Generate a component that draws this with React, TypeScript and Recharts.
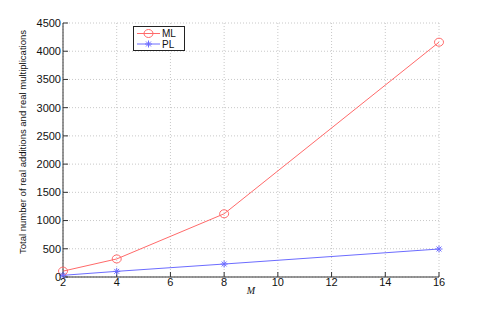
import React from 'react';
import { LineChart, Line, XAxis, YAxis, CartesianGrid } from 'recharts';

// values
const mValues = [2, 4, 8, 16];
const mlOps = [104, 320, 1120, 4160];
const plOps = [30, 100, 230, 496];
const xTicks = [2, 4, 6, 8, 10, 12, 14, 16];
const yTicks = [0, 500, 1000, 1500, 2000, 2500, 3000, 3500, 4000, 4500];

const data = mValues.map((m, i) => ({ m, ML: mlOps[i], PL: plOps[i] }));

const RED = '#ff6a6a';
const BLUE = '#6c6cff';
const AXIS = '#333';
const FONT = 'Liberation Sans, Arial, sans-serif';

const Circle = (props: any) => {
  const { cx, cy } = props;
  if (cx == null || cy == null) return null;
  return <ellipse cx={cx} cy={cy} rx={4.5} ry={4} fill="none" stroke={RED} strokeWidth={1} />;
};

const Star = (props: any) => {
  const { cx, cy } = props;
  if (cx == null || cy == null) return null;
  const r = 3.5;
  const d = r * 0.7;
  return (
    <g stroke={BLUE} strokeWidth={1}>
      <line x1={cx - r} y1={cy} x2={cx + r} y2={cy} />
      <line x1={cx} y1={cy - r} x2={cx} y2={cy + r} />
      <line x1={cx - d} y1={cy - d} x2={cx + d} y2={cy + d} />
      <line x1={cx - d} y1={cy + d} x2={cx + d} y2={cy - d} />
    </g>
  );
};

const LegendBox = () => (
  <svg width={52} height={25} style={{ display: 'block' }}>
    <rect x={0.5} y={0.5} width={51} height={24} fill="#fff" stroke="#222" />
    <line x1={4} y1={7.5} x2={27} y2={7.5} stroke={RED} />
    <Circle cx={15.5} cy={7.5} />
    <text x={29} y={11} fontSize={10} fontFamily={FONT} fill="#111">ML</text>
    <line x1={4} y1={18} x2={27} y2={18} stroke={BLUE} />
    <Star cx={15.5} cy={18} />
    <text x={29} y={21.5} fontSize={10} fontFamily={FONT} fill="#111">PL</text>
  </svg>
);

const YTitle = (props: any) => {
  const { viewBox } = props;
  const cy = viewBox.y + viewBox.height / 2 - 8;
  return (
    <text x={22} y={cy} transform={`rotate(-90, 22, ${cy})`} textAnchor="middle" dominantBaseline="central"
      fontSize={9.5} fontFamily="Liberation Sans Narrow, Arial Narrow, sans-serif" fill="#111">
      Total number of real additions and real multiplications
    </text>
  );
};

const XTitle = (props: any) => {
  const { viewBox } = props;
  const cx = viewBox.x + viewBox.width / 2;
  return (
    <text x={cx} y={viewBox.y + 17} textAnchor="middle" fontSize={10} fontStyle="italic"
      fontFamily="Liberation Serif, Times New Roman, serif" fill="#111">M</text>
  );
};

export default function App() {
  return (
    <div style={{ position: 'absolute', left: 0, top: 0, width: 485, height: 312, background: '#fff' }}>
      <LineChart width={485} height={312} data={data} margin={{ top: 23, right: 46, left: 0, bottom: 0 }}>
        <CartesianGrid xAxisId="b" yAxisId="l" stroke="#c8c8c8" strokeDasharray="1 2" />
        <XAxis xAxisId="b" dataKey="m" type="number" domain={[2, 16]} ticks={xTicks} height={35}
          stroke={AXIS} tickSize={-5} tickMargin={6} interval={0}
          tick={{ fontSize: 11, fontFamily: FONT, fill: '#111' }} label={<XTitle />} />
        <XAxis xAxisId="t" orientation="top" dataKey="m" type="number" domain={[2, 16]} ticks={xTicks}
          height={0} stroke={AXIS} tickSize={-5} tick={false} interval={0} />
        <YAxis yAxisId="l" type="number" domain={[0, 4500]} ticks={yTicks} width={63} interval={0}
          stroke={AXIS} tickSize={-5} tickMargin={7}
          tick={{ fontSize: 11, fontFamily: FONT, fill: '#111' }} label={<YTitle />} />
        <YAxis yAxisId="r" orientation="right" type="number" domain={[0, 4500]} ticks={yTicks} width={0}
          stroke={AXIS} tickSize={-5} tick={false} interval={0} />
        <Line xAxisId="b" yAxisId="l" dataKey="ML" stroke={RED} strokeWidth={1} dot={<Circle />}
          activeDot={false} isAnimationActive={false} />
        <Line xAxisId="b" yAxisId="l" dataKey="PL" stroke={BLUE} strokeWidth={1} dot={<Star />}
          activeDot={false} isAnimationActive={false} />
      </LineChart>
      <div style={{ position: 'absolute', left: 133, top: 26 }}>
        <LegendBox />
      </div>
    </div>
  );
}
